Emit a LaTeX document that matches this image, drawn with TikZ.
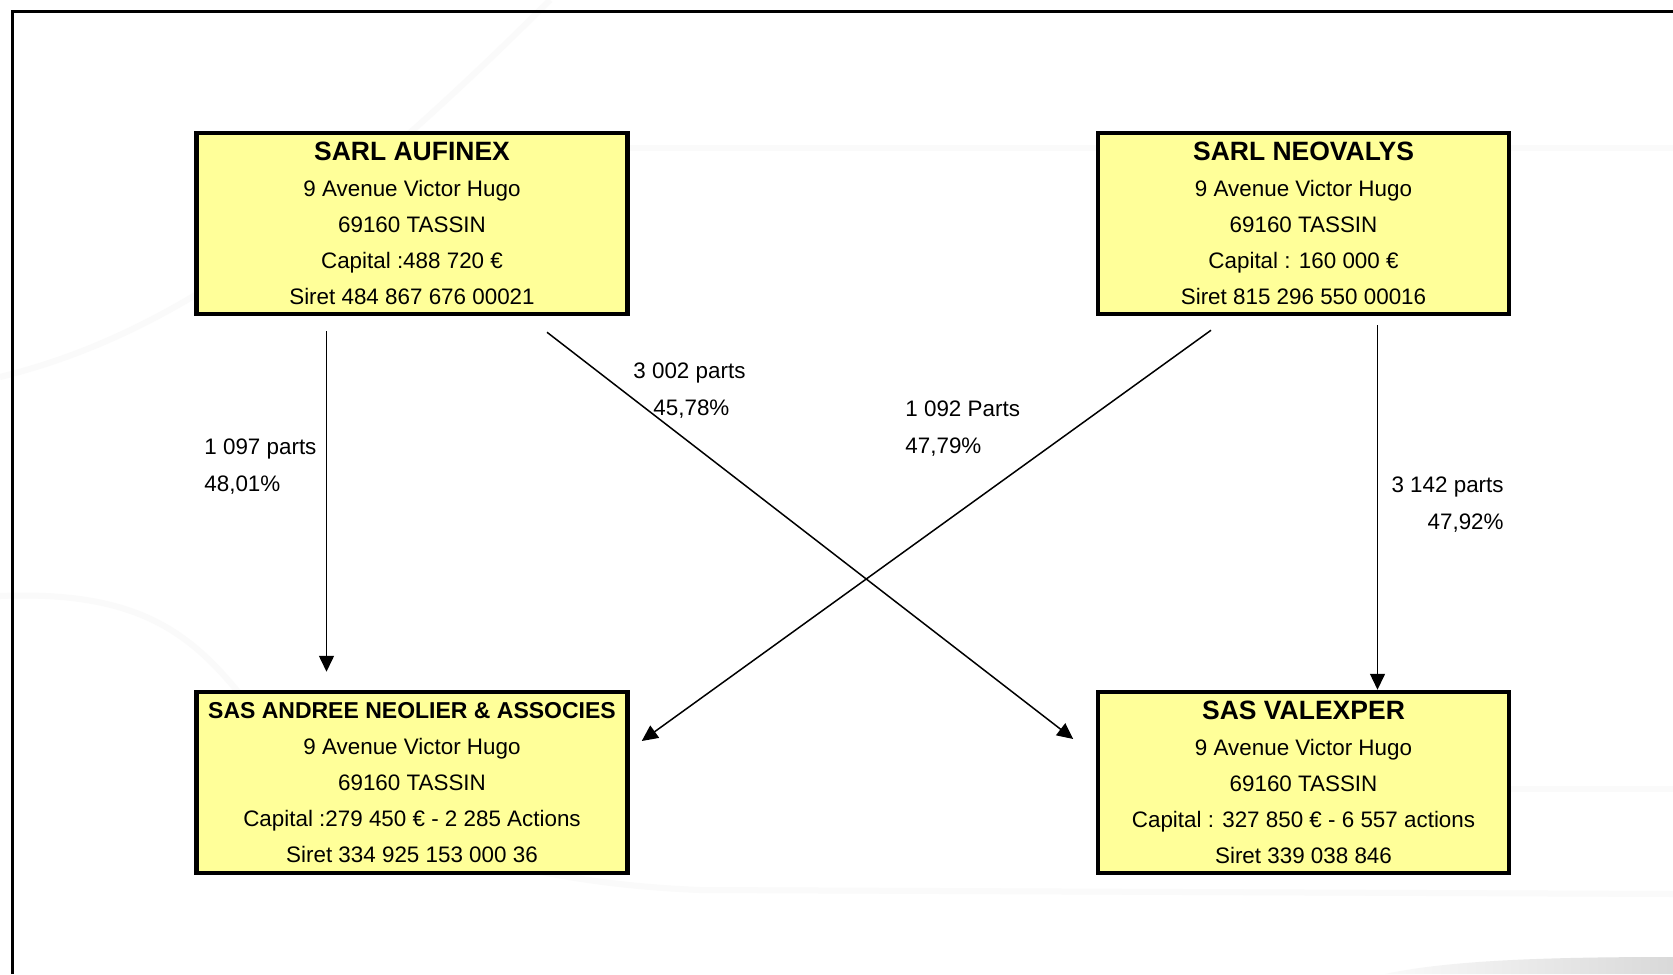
\documentclass[tikz,border=0pt]{standalone}
\usepackage{fontspec}
\setmainfont{Liberation Sans}
\usetikzlibrary{arrows.meta}
\definecolor{boxyellow}{HTML}{FFFF99}
\newcommand{\firmname}[2][13.25]{{\fontsize{#1}{18}\selectfont\bfseries #2}}

\begin{document}
\begin{tikzpicture}[x=0.5pt, y=-0.5pt,
	firm/.style={draw, line width=2.25pt, fill=boxyellow, inner sep=0pt, outer sep=1.125pt,
		align=center, minimum height=90.5pt, font=\fontsize{11.2}{18}\selectfont},
	share/.style={-{Triangle[length=8pt,width=7.5pt]}, line width=0.75pt},
	share label/.style={inner sep=0pt, font=\fontsize{11.2}{18.5}\selectfont},
	swoosh/.style={gray!4, line width=3pt}]
		\useasboundingbox (0,0) rectangle (1673,974);
		\fill[white] (0,0) rectangle (1673,974);
		\draw[swoosh] (0,377) .. controls (150,340) and (300,250) .. (550,0);
		\draw[swoosh] (630,148) -- (1673,148);
		\draw[swoosh] (0,596) .. controls (150,590) and (200,640) .. (260,720) .. controls (320,800) and (450,880) .. (700,890) -- (1673,894);
		\draw[swoosh] (1511,789) -- (1673,789);
		\shade[left color=gray!4, right color=gray!30] (1385,974) .. controls (1450,960) and (1550,957) .. (1673,957) -- (1673,974) -- cycle;
		\draw[line width=1.5pt] (12,974) -- (12,11.5) -- (1673,11.5);
		\node[firm, minimum width=215.5pt] (aufinex) at (412,223.5)
			{\firmname{SARL AUFINEX}\\9 Avenue Victor Hugo\\69160 TASSIN\\Capital :488 720 €\\Siret 484 867 676 00021};
		\node[firm, minimum width=205.5pt] (neovalys) at (1303.5,223.5)
			{\firmname{SARL NEOVALYS}\\9 Avenue Victor Hugo\\69160 TASSIN\\Capital : 160 000 €\\Siret 815 296 550 00016};
		\node[firm, minimum width=215.5pt] (andree) at (412,782.5)
			{\firmname[11.5]{SAS ANDREE NEOLIER \& ASSOCIES}\\9 Avenue Victor Hugo\\69160 TASSIN\\Capital :279 450 € - 2 285 Actions\\Siret 334 925 153 000 36};
		\node[firm, minimum width=205.5pt] (valexper) at (1303.5,782.5)
			{\firmname{SAS VALEXPER}\\9 Avenue Victor Hugo\\69160 TASSIN\\Capital : 327 850 € - 6 557 actions\\Siret 339 038 846};
		\draw[share] ([shift={(-85.5,15)}]aufinex.south) -- ([shift={(-85.5,-18)}]andree.north);
		\draw[share] ([shift={(135,16)}]aufinex.south) -- ([shift={(-22.5,-43.5)}]valexper.west);
		\draw[share] ([shift={(-92.5,14)}]neovalys.south) -- ([shift={(12,-41.5)}]andree.east);
		\draw[share] ([shift={(74,9)}]neovalys.south) -- ([shift={(74,0)}]valexper.north);
		\node[share label, anchor=north west, align=left] (aufinex andree) at (204,438) {1 097 parts\\48,01\%};
		\node[share label, anchor=north west, align=left] (aufinex valexper) at (633,362) {3 002 parts\\\hspace*{10pt}45,78\%};
		\node[share label, anchor=north west, align=left] (neovalys andree) at (905,400) {1 092 Parts\\47,79\%};
		\node[share label, anchor=north east, align=right] (neovalys valexper) at (1504,476) {3 142 parts\\47,92\%};
	\end{tikzpicture}
\end{document}
